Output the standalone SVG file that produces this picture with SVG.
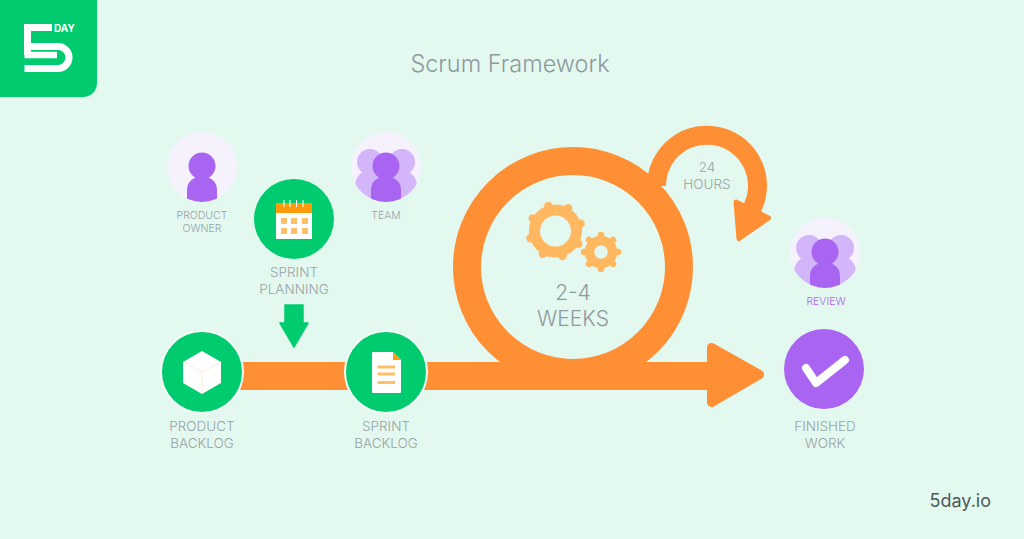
<svg xmlns="http://www.w3.org/2000/svg" width="1024" height="539" viewBox="0 0 1024 539">
  <style>
    .lbl { font-family: Inter, "Liberation Sans", sans-serif; font-weight: 300; fill: #98a3a6; text-anchor: middle; }
    .s14 { font-size: 13.5px; }
    .s11 { font-size: 10.5px; }
    .flow { fill: none; stroke: #ff8f35; }
    .orange { fill: #ff8f35; stroke: #ff8f35; stroke-linejoin: round; }
    .green { fill: #00cc6f; }
    .ring { stroke: #f3fdf8; stroke-width: 2; }
    .tint { fill: #f5f2fd; }
    .front { fill: #a965f1; }
    .back { fill: #d3b5fa; }
    .tile { fill: #ffbf66; }
    .gear { fill: none; stroke: #ffb85f; }
  </style>
  <defs>
    <clipPath id="clipOwner"><circle cx="202" cy="167" r="35"/></clipPath>
    <clipPath id="clipTeam"><circle cx="386" cy="167" r="35"/></clipPath>
    <clipPath id="clipReview"><circle cx="825" cy="253" r="35"/></clipPath>
    <path id="body" d="M-15 36V24C-15 15 -8 10.500 0 10.500S15 15 15 24V36Z"/>
    <g id="group">
      <circle class="back" cx="-16" cy="-4" r="13"/>
      <circle class="back" cx="16" cy="-4" r="13"/>
      <path class="back" d="M-31 36V20C-31 11 -24 4 -16 4S-1 11 -1 20V36Z"/>
      <path class="back" d="M1 36V20C1 11 8 4 16 4S31 11 31 20V36Z"/>
      <circle class="front" cx="0" cy="0" r="13.500"/>
      <use href="#body" class="front"/>
    </g>
    <g id="toothBig"><line x1="0" y1="-22" x2="0" y2="-26" stroke="#ffb85f" stroke-width="8.500" stroke-linecap="round"/></g>
    <g id="toothSmall"><line x1="0" y1="-14" x2="0" y2="-17" stroke="#ffb85f" stroke-width="6.500" stroke-linecap="round"/></g>
  </defs>

  <rect width="1024" height="539" fill="#e3f9f0"/>

  <g id="logo">
    <path class="green" d="M0 0H97V83A14 14 0 0 1 83 97H0Z"/>
    <path d="M52 27.500H27.500V55M27.500 46.500H58A11 11 0 0 1 58 68.500H24.500" fill="none" stroke="#fff" stroke-width="7"/>
    <path d="M24.500 55H57" fill="none" stroke="#fff" stroke-width="6.500"/>
    <text x="54" y="32" font-family="Inter, 'Liberation Sans', sans-serif" font-size="10" font-weight="700" fill="#fff">DAY</text>
  </g>

  <text id="title" x="510" y="72" font-family="Inter, 'Liberation Sans', sans-serif" font-size="23.500" font-weight="300" fill="#8f9a9e" text-anchor="middle">Scrum Framework</text>

  <g id="connectors">
    <path class="flow" stroke-width="19" d="M656.500 186A50.500 50.500 0 1 1 750.700 211"/>
    <polygon class="orange" stroke-width="5" points="736,202 768.500,218 739,238.500"/>
    <circle class="flow" stroke-width="28" cx="573" cy="267" r="106"/>
    <rect x="240" y="362" width="470" height="28" fill="#ff8f35"/>
    <polygon class="orange" stroke-width="9" points="711.500,347.500 759.500,374.500 711.500,402.500"/>
    <path class="green" d="M285 305H303V323H308L294 347 280 323H285Z" stroke="#00cc6f" stroke-width="1.500" stroke-linejoin="round"/>
  </g>

  <g id="loop-label">
    <text class="lbl s14" x="707" y="172">24</text>
    <text class="lbl s14" x="707" y="189">HOURS</text>
  </g>

  <g id="sprint-cycle">
    <g transform="translate(555.500 231)">
      <circle class="gear" cx="0" cy="0" r="21" stroke-width="11"/>
      <use href="#toothBig" transform="rotate(-16)"/>
      <use href="#toothBig" transform="rotate(29)"/>
      <use href="#toothBig" transform="rotate(74)"/>
      <use href="#toothBig" transform="rotate(119)"/>
      <use href="#toothBig" transform="rotate(164)"/>
      <use href="#toothBig" transform="rotate(209)"/>
      <use href="#toothBig" transform="rotate(254)"/>
      <use href="#toothBig" transform="rotate(299)"/>
    </g>
    <g transform="translate(601 252)">
      <circle class="gear" cx="0" cy="0" r="11.500" stroke-width="9.500"/>
      <use href="#toothSmall" transform="rotate(0)"/>
      <use href="#toothSmall" transform="rotate(45)"/>
      <use href="#toothSmall" transform="rotate(90)"/>
      <use href="#toothSmall" transform="rotate(135)"/>
      <use href="#toothSmall" transform="rotate(180)"/>
      <use href="#toothSmall" transform="rotate(225)"/>
      <use href="#toothSmall" transform="rotate(270)"/>
      <use href="#toothSmall" transform="rotate(315)"/>
    </g>
    <text class="lbl" x="573" y="300" font-size="21" style="fill:#8f9a9e">2-4</text>
    <text class="lbl" x="573" y="326" font-size="21" style="fill:#8f9a9e">WEEKS</text>
  </g>

  <g id="product-owner">
    <circle class="tint" cx="202" cy="167" r="35"/>
    <g clip-path="url(#clipOwner)">
      <circle class="front" cx="202" cy="166" r="13.500"/>
      <use href="#body" class="front" x="202" y="166"/>
    </g>
    <text class="lbl s11" x="202" y="219">PRODUCT</text>
    <text class="lbl s11" x="202" y="232">OWNER</text>
  </g>

  <g id="team">
    <circle class="tint" cx="386" cy="167" r="35"/>
    <g clip-path="url(#clipTeam)"><use href="#group" x="386" y="166"/></g>
    <text class="lbl s11" x="386" y="219">TEAM</text>
  </g>

  <g id="sprint-planning">
    <circle class="green" cx="294" cy="219" r="40"/>
    <rect x="276" y="203" width="36" height="36" fill="#fff"/>
    <rect x="276" y="203" width="36" height="10" fill="#ff9a0a"/>
    <path d="M284 200V207M290 200V207M296.500 200V207M303 200V207" stroke="#fff" stroke-width="1"/>
    <rect class="tile" x="281" y="218" width="6" height="6"/>
    <rect class="tile" x="291" y="218" width="6" height="6"/>
    <rect class="tile" x="302" y="218" width="6" height="6"/>
    <rect class="tile" x="281" y="228" width="6" height="6"/>
    <rect class="tile" x="291" y="228" width="6" height="6"/>
    <rect class="tile" x="302" y="228" width="6" height="6"/>
    <text class="lbl s14" x="294" y="277">SPRINT</text>
    <text class="lbl s14" x="294" y="294">PLANNING</text>
  </g>

  <g id="product-backlog">
    <circle class="green ring" cx="202" cy="372" r="41"/>
    <polygon points="202,351 221,362 221,383 202,394 183,383 183,362" fill="#fff"/>
    <path d="M183 362L202 372 221 362M202 372V394" fill="none" stroke="#ffe3bd" stroke-width="0.700"/>
    <text class="lbl s14" x="202" y="431">PRODUCT</text>
    <text class="lbl s14" x="202" y="448">BACKLOG</text>
  </g>

  <g id="sprint-backlog">
    <circle class="green ring" cx="386" cy="372" r="41"/>
    <path d="M373 352H393L401 360V392A1 1 0 0 1 400 393H373A1 1 0 0 1 372 392V353A1 1 0 0 1 373 352Z" fill="#fff"/>
    <polygon points="393,352 401,360 393,360" fill="#ff9a0a"/>
    <path d="M377.500 367H395M377.500 374H395M377.500 382.500H395" stroke="#ffbf66" stroke-width="3"/>
    <text class="lbl s14" x="386" y="431">SPRINT</text>
    <text class="lbl s14" x="386" y="448">BACKLOG</text>
  </g>

  <g id="review">
    <circle class="tint" cx="825" cy="253" r="35"/>
    <g clip-path="url(#clipReview)"><use href="#group" x="825" y="252"/></g>
    <text class="lbl s11" x="826" y="305" style="fill:#a965f1">REVIEW</text>
  </g>

  <g id="finished-work">
    <circle cx="824" cy="369" r="40" fill="#a965f1"/>
    <path d="M806 368L816 383 845 360" fill="none" stroke="#fff" stroke-width="8" stroke-linecap="round" stroke-linejoin="round"/>
    <text class="lbl s14" x="825" y="431">FINISHED</text>
    <text class="lbl s14" x="825" y="448">WORK</text>
  </g>

  <text id="site" x="991" y="507" font-family="Inter, 'Liberation Sans', sans-serif" font-size="18" fill="#4c5a5c" text-anchor="end">5day.io</text>
</svg>
